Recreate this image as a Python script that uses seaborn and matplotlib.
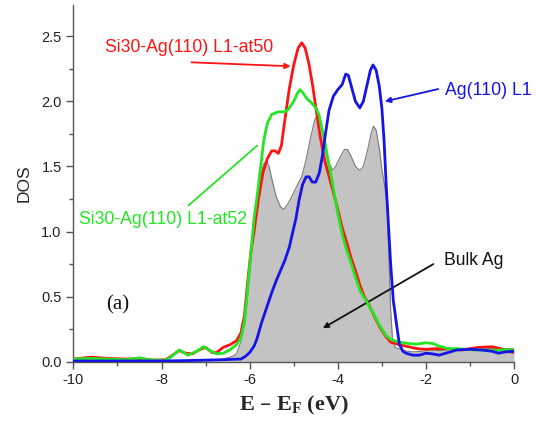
import matplotlib
matplotlib.use("Agg")
import matplotlib.pyplot as plt
from matplotlib.ticker import MultipleLocator
import seaborn as sns

# values (energy in eV, DOS)
bulk_x = [-10.0, -8.0, -7.0, -6.6, -6.4, -6.3, -6.2, -6.1, -6.0, -5.92, -5.84, -5.76, -5.68,
          -5.62, -5.56, -5.48, -5.4, -5.3, -5.22, -5.12, -5.0, -4.9, -4.82, -4.72, -4.62,
          -4.52, -4.47, -4.4, -4.3, -4.2, -4.12, -4.05, -3.95, -3.85, -3.78, -3.7, -3.6,
          -3.5, -3.42, -3.32, -3.24, -3.19, -3.13, -3.05, -3.0, -2.95, -2.88, -2.84, -2.8,
          -2.76, -2.7, -2.5, -2.3, -2.1, -1.9, -1.7, -1.5, -1.2, -0.8, -0.4, 0.0]
bulk_y = [0.0, 0.0, 0.005, 0.02, 0.04, 0.06, 0.15, 0.32, 0.65, 0.95, 1.22, 1.42, 1.52,
          1.54, 1.5, 1.38, 1.27, 1.19, 1.17, 1.22, 1.3, 1.37, 1.42, 1.55, 1.72,
          1.86, 1.89, 1.85, 1.7, 1.53, 1.47, 1.5, 1.57, 1.63, 1.63, 1.58, 1.5,
          1.47, 1.5, 1.63, 1.76, 1.81, 1.78, 1.62, 1.48, 1.38, 1.2, 0.8, 0.4,
          0.18, 0.11, 0.085, 0.075, 0.08, 0.09, 0.085, 0.09, 0.1, 0.1, 0.1, 0.1]

at50_x = [-10.0, -9.6, -9.2, -8.8, -8.5, -8.2, -7.9, -7.75, -7.6, -7.45, -7.3, -7.15, -7.0,
          -6.85, -6.75, -6.6, -6.45, -6.3, -6.2, -6.12, -6.05, -5.97, -5.9, -5.8, -5.7,
          -5.6, -5.5, -5.42, -5.35, -5.28, -5.2, -5.1, -5.0, -4.9, -4.82, -4.74, -4.65,
          -4.57, -4.48, -4.4, -4.3, -4.22, -4.1, -4.0, -3.9, -3.8, -3.7, -3.6, -3.5, -3.4,
          -3.3, -3.2, -3.1, -3.0, -2.9, -2.8, -2.6, -2.4, -2.2, -2.0, -1.8, -1.5, -1.2,
          -1.0, -0.8, -0.5, -0.3, -0.15, 0.0]
at50_y = [0.02, 0.035, 0.025, 0.02, 0.025, 0.012, 0.015, 0.05, 0.085, 0.065, 0.06, 0.09, 0.11,
          0.07, 0.07, 0.11, 0.13, 0.16, 0.22, 0.35, 0.6, 0.85, 1.0, 1.25, 1.45,
          1.56, 1.62, 1.62, 1.6, 1.66, 1.86, 2.1, 2.28, 2.41, 2.45, 2.41, 2.28,
          2.12, 1.91, 1.73, 1.55, 1.45, 1.3, 1.17, 1.03, 0.92, 0.8, 0.7, 0.59, 0.5,
          0.44, 0.37, 0.3, 0.24, 0.19, 0.15, 0.13, 0.115, 0.1, 0.095, 0.1, 0.1, 0.09,
          0.1, 0.11, 0.115, 0.1, 0.08, 0.07]

at52_x = [-10.0, -9.6, -9.2, -8.8, -8.5, -8.3, -8.0, -7.85, -7.7, -7.6, -7.5, -7.4, -7.2,
          -7.05, -6.9, -6.75, -6.6, -6.45, -6.3, -6.2, -6.12, -6.05, -5.97, -5.9, -5.82,
          -5.75, -5.68, -5.6, -5.5, -5.35, -5.2, -5.12, -5.0, -4.92, -4.86, -4.8, -4.7,
          -4.6, -4.5, -4.43, -4.37, -4.3, -4.25, -4.18, -4.11, -4.0, -3.9, -3.8, -3.7,
          -3.6, -3.5, -3.42, -3.34, -3.26, -3.19, -3.1, -3.0, -2.9, -2.8, -2.6, -2.4,
          -2.2, -2.0, -1.85, -1.7, -1.5, -1.3, -1.1, -0.9, -0.7, -0.5, -0.3, 0.0]
at52_y = [0.02, 0.025, 0.02, 0.015, 0.03, 0.015, 0.01, 0.02, 0.06, 0.09, 0.07, 0.05, 0.08,
          0.115, 0.085, 0.06, 0.065, 0.09, 0.13, 0.18, 0.3, 0.55, 0.85, 1.1, 1.3,
          1.5, 1.7, 1.83, 1.9, 1.92, 1.92, 1.94, 2.0, 2.06, 2.09, 2.07, 2.02,
          1.99, 1.95, 1.9, 1.81, 1.7, 1.6, 1.48, 1.35, 1.14, 0.98, 0.86, 0.76,
          0.65, 0.55, 0.5, 0.46, 0.41, 0.37, 0.31, 0.25, 0.2, 0.17, 0.15, 0.14,
          0.135, 0.145, 0.14, 0.12, 0.1, 0.1, 0.095, 0.09, 0.09, 0.085, 0.09, 0.09]

ag_x = [-10.0, -8.0, -7.5, -7.0, -6.6, -6.4, -6.2, -6.1, -6.0, -5.9, -5.84, -5.73, -5.61,
        -5.5, -5.4, -5.3, -5.2, -5.1, -5.02, -4.95, -4.88, -4.8, -4.72, -4.65, -4.58,
        -4.5, -4.42, -4.35, -4.28, -4.2, -4.1, -4.0, -3.9, -3.82, -3.76, -3.68, -3.6,
        -3.5, -3.42, -3.34, -3.26, -3.2, -3.13, -3.06, -3.0, -2.95, -2.9, -2.85, -2.8,
        -2.74, -2.66, -2.6, -2.52, -2.45, -2.3, -2.15, -2.0, -1.85, -1.7, -1.5, -1.3,
        -1.0, -0.75, -0.5, -0.35, -0.2, 0.0]
ag_y = [0.005, 0.005, 0.008, 0.012, 0.015, 0.018, 0.02, 0.04, 0.07, 0.12, 0.17, 0.3, 0.42,
        0.53, 0.62, 0.7, 0.78, 0.88, 1.0, 1.1, 1.24, 1.36, 1.42, 1.42, 1.38,
        1.38, 1.45, 1.58, 1.75, 1.93, 2.04, 2.09, 2.13, 2.21, 2.2, 2.1, 2.0,
        1.95, 2.0, 2.12, 2.24, 2.28, 2.24, 2.12, 1.95, 1.7, 1.35, 1.05, 0.75,
        0.47, 0.27, 0.13, 0.08, 0.065, 0.05, 0.05, 0.065, 0.06, 0.05, 0.07, 0.09,
        0.095, 0.09, 0.08, 0.065, 0.075, 0.08]

sns.set_style("ticks")
plt.rcParams['font.family'] = ['Liberation Sans', 'DejaVu Sans']
plt.rcParams['axes.unicode_minus'] = False

fig = plt.figure(figsize=(5.36, 4.24), dpi=100)
ax = fig.add_axes([0.137, 0.147, 0.822, 0.841])

# bulk Ag shaded
ax.fill_between(bulk_x, bulk_y, 0, color='#c3c3c3', lw=0, zorder=1)
sns.lineplot(x=bulk_x, y=bulk_y, ax=ax, color='#7a7a7a', lw=0.8, zorder=2)

sns.lineplot(x=at50_x, y=at50_y, ax=ax, color='#ff1414', lw=2.0, zorder=3)
sns.lineplot(x=at52_x, y=at52_y, ax=ax, color='#22e622', lw=2.0, zorder=4)
sns.lineplot(x=ag_x, y=ag_y, ax=ax, color='#1414e6', lw=2.0, zorder=5)

ax.set_xlim(-10, 0)
ax.set_ylim(0, 2.74)
ax.xaxis.set_major_locator(MultipleLocator(2))
ax.xaxis.set_minor_locator(MultipleLocator(1))
ax.yaxis.set_major_locator(MultipleLocator(0.5))
ax.yaxis.set_minor_locator(MultipleLocator(0.25))
ax.yaxis.set_major_formatter(plt.FormatStrFormatter('%.1f'))
ax.tick_params(which='major', length=5, width=1, color='#555555', labelsize=10.5,
               labelcolor='#222222')
ax.tick_params(which='minor', length=3, width=1, color='#555555')
sns.despine(ax=ax)
for s in ['left', 'bottom']:
    ax.spines[s].set_color('#555555')
    ax.spines[s].set_linewidth(1)

ax.set_ylabel('DOS', fontsize=12.5, labelpad=7)
ax.set_xlabel('E – E$_\\mathregular{F}$ (eV)', fontsize=16, fontweight='bold',
              family='Liberation Serif', labelpad=5)

# annotations
ax.text(-7.38, 2.415, 'Si30-Ag(110) L1-at50', color='#ff1414', fontsize=12.7,
        ha='center', va='center')
ax.annotate('', xy=(-5.07, 2.27), xytext=(-7.32, 2.30),
            arrowprops=dict(arrowstyle='-|>', color='#ff1414', lw=1.3,
                            mutation_scale=8, shrinkA=0, shrinkB=0))

ax.text(-1.57, 2.08, 'Ag(110) L1', color='#1414e6', fontsize=12.7, ha='left', va='center')
ax.annotate('', xy=(-2.93, 2.0), xytext=(-1.72, 2.095),
            arrowprops=dict(arrowstyle='-|>', color='#1414e6', lw=1.3,
                            mutation_scale=8, shrinkA=0, shrinkB=0))

ax.text(-7.96, 1.095, 'Si30-Ag(110) L1-at52', color='#22e622', fontsize=12.7,
        ha='center', va='center')
ax.annotate('', xy=(-5.83, 1.66), xytext=(-7.39, 1.20),
            arrowprops=dict(arrowstyle='-', color='#22e622', lw=1.3,
                            shrinkA=0, shrinkB=0))

ax.text(-1.59, 0.78, 'Bulk Ag', color='#111111', fontsize=12.7, ha='left', va='center')
ax.annotate('', xy=(-4.34, 0.257), xytext=(-1.83, 0.75),
            arrowprops=dict(arrowstyle='-|>', color='#111111', lw=1.3,
                            mutation_scale=8, shrinkA=0, shrinkB=0))

ax.text(-9.0, 0.44, '(a)', family='Liberation Serif', fontsize=15,
        ha='center', va='center', color='#111111')

fig.savefig('out.png', dpi=100)
